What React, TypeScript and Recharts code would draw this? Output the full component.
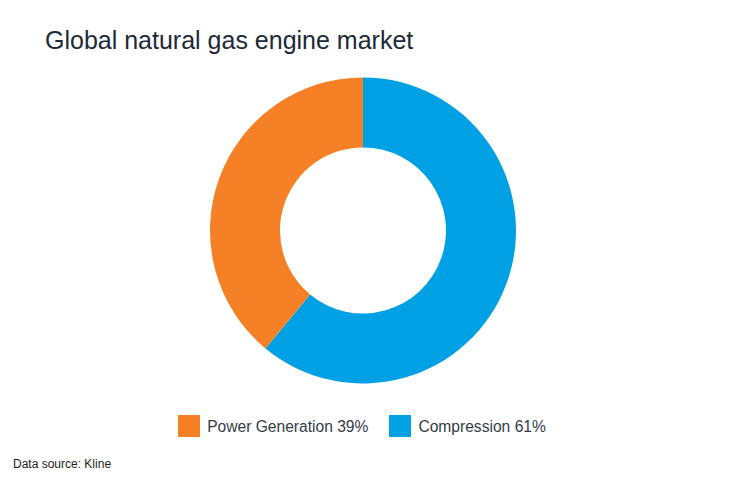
import React from 'react';
import { PieChart, Pie, Cell, Legend } from 'recharts';

// Slice order follows the drawing: Compression starts at 12 o'clock, clockwise
const sliceNames = ['Compression', 'Power Generation'];
const sliceValues = [61, 39];
const sliceColors = ['#00A1E4', '#F58026'];

// Legend reads Power Generation first
const legendOrder = ['Power Generation', 'Compression'];

const FONT = '"Liberation Sans", Arial, Helvetica, sans-serif';

const data = sliceNames.map((name, i) => ({ name, value: sliceValues[i], color: sliceColors[i] }));

const LegendContent = () => (
  <div style={{ display: 'flex', justifyContent: 'center', alignItems: 'center', fontFamily: FONT }}>
    {legendOrder.map((name, i) => {
      const d = data.find(x => x.name === name)!;
      return (
        <div key={name} style={{ display: 'flex', alignItems: 'center', marginLeft: i === 0 ? 0 : 21 }}>
          <span style={{ display: 'inline-block', width: 22, height: 22, background: d.color, marginRight: 7 }} />
          <span style={{ fontSize: 15.6, color: '#333d47', lineHeight: '22px', position: 'relative', top: 1 }}>
            {d.name} {d.value}%
          </span>
        </div>
      );
    })}
  </div>
);

const App: React.FC = () => {
  return (
    <div style={{ position: 'absolute', left: 0, top: 0, width: 730, height: 483, background: '#fff', fontFamily: FONT }}>
      <div style={{ position: 'absolute', left: 45, top: 25, fontSize: 25, color: '#1d2a38', lineHeight: '30px', whiteSpace: 'nowrap' }}>
        Global natural gas engine market
      </div>
      <PieChart width={730} height={483} margin={{ top: 0, right: 0, bottom: 0, left: 0 }} style={{ position: 'absolute', left: 0, top: 0 }}>
        <Pie
          data={data}
          dataKey="value"
          nameKey="name"
          cx={363}
          cy={230.5}
          innerRadius={83}
          outerRadius={153}
          startAngle={90}
          endAngle={-270}
          stroke="none"
          isAnimationActive={false}
        >
          {data.map(d => (
            <Cell key={d.name} fill={d.color} />
          ))}
        </Pie>
        <Legend
          content={<LegendContent />}
          wrapperStyle={{ position: 'absolute', left: -3, top: 415, width: 730 }}
        />
      </PieChart>
      <div style={{ position: 'absolute', left: 13, top: 457, fontSize: 12, color: '#222', lineHeight: '14px', whiteSpace: 'nowrap' }}>
        Data source: Kline
      </div>
    </div>
  );
};

export default App;
